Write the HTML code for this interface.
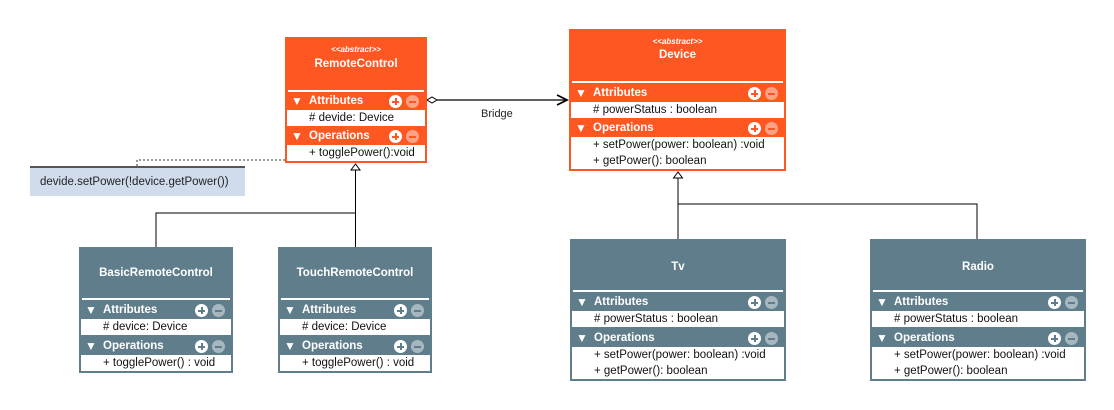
<!DOCTYPE html>
<html><head><meta charset="utf-8"><style>
body{margin:0;width:1114px;height:410px;background:#fff;position:relative;overflow:hidden;font-family:"Liberation Sans",sans-serif;}
.b{position:absolute;box-sizing:border-box;border:2px solid;}
.o{background:#ff5722;border-color:#ff5722}
.g{background:#607d8b;border-color:#607d8b}
.b div{position:absolute;}
.st{left:0;right:0;text-align:center;color:#fff;font-size:8px;font-style:italic;font-weight:bold}
.nm{left:0;right:0;text-align:center;color:#fff;font-size:11.5px;font-weight:bold}
.hl{left:1px;right:1px;height:2px;background:#fff}
.sec{left:0;right:0;color:#fff;font-size:11.5px;font-weight:bold}
.sec .t{left:4px;top:2px;font-size:12px}
.sec .l{left:22px;top:3px}
.pl{width:13px;height:13px;border-radius:50%;background:#fff;top:3px}
.pl::before{content:"";position:absolute;left:3px;top:5.5px;width:7px;height:2px;background:var(--c)}
.pl::after{content:"";position:absolute;left:5.5px;top:3px;width:2px;height:7px;background:var(--c)}
.mi{width:13px;height:13px;border-radius:50%;background:rgba(255,255,255,.45);top:3px}
.mi::before{content:"";position:absolute;left:3px;top:5.5px;width:7px;height:2px;background:var(--c)}
.it{left:0;right:0;background:#fff;color:#111;font-size:11.5px;line-height:16px;padding-left:22px;box-sizing:border-box}
.o{--c:#ff5722}.g{--c:#607d8b}
</style></head><body>
<svg width="1114" height="410" style="position:absolute;left:0;top:0">
<polyline points="137,166 137,160 285,160" fill="none" stroke="#333" stroke-dasharray="2,2"/>
<line x1="437" y1="100" x2="566" y2="100" stroke="#000" stroke-width="1.3"/>
<polygon points="427,100 432,97 437,100 432,103" fill="#fff" stroke="#000"/>
<polyline points="557,95 567,100 557,105" fill="none" stroke="#000" stroke-width="1.8"/>
<text x="481" y="117" font-size="11" font-family="Liberation Sans" fill="#222">Bridge</text>
<polyline points="156,247 156,213 356,213" fill="none" stroke="#000"/>
<line x1="355.5" y1="247" x2="355.5" y2="170" stroke="#000"/>
<polygon points="355.5,164 351,170 360,170" fill="#fff" stroke="#000"/>
<line x1="678" y1="239" x2="678" y2="178" stroke="#000"/>
<polyline points="678,204 977,204 977,239" fill="none" stroke="#000"/>
<polygon points="678,172 673.5,178 682.5,178" fill="#fff" stroke="#000"/>
</svg>
<div style="position:absolute;left:30px;top:166px;width:215px;height:30px;background:#d0dcec;border-top:2px solid #555;box-sizing:border-box;font-size:11.5px;color:#222;line-height:28px;padding-left:10px">devide.setPower(!device.getPower())</div>

<div class="b o" style="left:285px;top:37px;width:142px;height:126px">
<div class="st" style="top:6px">&lt;&lt;abstract&gt;&gt;</div><div class="nm" style="top:19px">RemoteControl</div>
<div class="hl" style="top:51px"></div>
<div class="sec" style="top:53px;height:18px"><div class="t">▼</div><div class="l">Attributes</div><div class="pl" style="left:102px"></div><div class="mi" style="left:119px"></div></div>
<div class="it" style="top:71px">#&nbsp;devide: Device</div>
<div class="sec" style="top:88px;height:18px"><div class="t">▼</div><div class="l">Operations</div><div class="pl" style="left:102px"></div><div class="mi" style="left:119px"></div></div>
<div class="it" style="top:106px">+ togglePower():void</div>
</div>

<div class="b o" style="left:569px;top:29px;width:217px;height:142px">
<div class="st" style="top:6px">&lt;&lt;abstract&gt;&gt;</div><div class="nm" style="top:18px">Device</div>
<div class="hl" style="top:50px"></div>
<div class="sec" style="top:53px;height:18px"><div class="t">▼</div><div class="l">Attributes</div><div class="pl" style="left:177px"></div><div class="mi" style="left:194px"></div></div>
<div class="it" style="top:71px"># powerStatus : boolean</div>
<div class="sec" style="top:88px;height:18px"><div class="t">▼</div><div class="l">Operations</div><div class="pl" style="left:177px"></div><div class="mi" style="left:194px"></div></div>
<div class="it" style="top:106px;height:32px">+ setPower(power: boolean) :void<br>+ getPower(): boolean</div>
</div>

<div class="b g" style="left:79px;top:247px;width:154px;height:126px">
<div class="nm" style="top:18px">BasicRemoteControl</div>
<div class="hl" style="top:49px"></div>
<div class="sec" style="top:52px;height:18px"><div class="t">▼</div><div class="l">Attributes</div><div class="pl" style="left:114px"></div><div class="mi" style="left:131px"></div></div>
<div class="it" style="top:70px"># device: Device</div>
<div class="sec" style="top:88px;height:18px"><div class="t">▼</div><div class="l">Operations</div><div class="pl" style="left:114px"></div><div class="mi" style="left:131px"></div></div>
<div class="it" style="top:106px">+ togglePower() : void</div>
</div>

<div class="b g" style="left:278px;top:247px;width:154px;height:126px">
<div class="nm" style="top:18px">TouchRemoteControl</div>
<div class="hl" style="top:49px"></div>
<div class="sec" style="top:52px;height:18px"><div class="t">▼</div><div class="l">Attributes</div><div class="pl" style="left:114px"></div><div class="mi" style="left:131px"></div></div>
<div class="it" style="top:70px"># device: Device</div>
<div class="sec" style="top:88px;height:18px"><div class="t">▼</div><div class="l">Operations</div><div class="pl" style="left:114px"></div><div class="mi" style="left:131px"></div></div>
<div class="it" style="top:106px">+ togglePower() : void</div>
</div>

<div class="b g" style="left:570px;top:239px;width:216px;height:142px">
<div class="nm" style="top:20px">Tv</div>
<div class="hl" style="top:49px"></div>
<div class="sec" style="top:52px;height:18px"><div class="t">▼</div><div class="l">Attributes</div><div class="pl" style="left:176px"></div><div class="mi" style="left:193px"></div></div>
<div class="it" style="top:70px"># powerStatus : boolean</div>
<div class="sec" style="top:88px;height:18px"><div class="t">▼</div><div class="l">Operations</div><div class="pl" style="left:176px"></div><div class="mi" style="left:193px"></div></div>
<div class="it" style="top:106px;height:32px">+ setPower(power: boolean) :void<br>+ getPower(): boolean</div>
</div>

<div class="b g" style="left:870px;top:239px;width:216px;height:142px">
<div class="nm" style="top:20px">Radio</div>
<div class="hl" style="top:49px"></div>
<div class="sec" style="top:52px;height:18px"><div class="t">▼</div><div class="l">Attributes</div><div class="pl" style="left:176px"></div><div class="mi" style="left:193px"></div></div>
<div class="it" style="top:70px"># powerStatus : boolean</div>
<div class="sec" style="top:88px;height:18px"><div class="t">▼</div><div class="l">Operations</div><div class="pl" style="left:176px"></div><div class="mi" style="left:193px"></div></div>
<div class="it" style="top:106px;height:32px">+ setPower(power: boolean) :void<br>+ getPower(): boolean</div>
</div>
</body></html>
